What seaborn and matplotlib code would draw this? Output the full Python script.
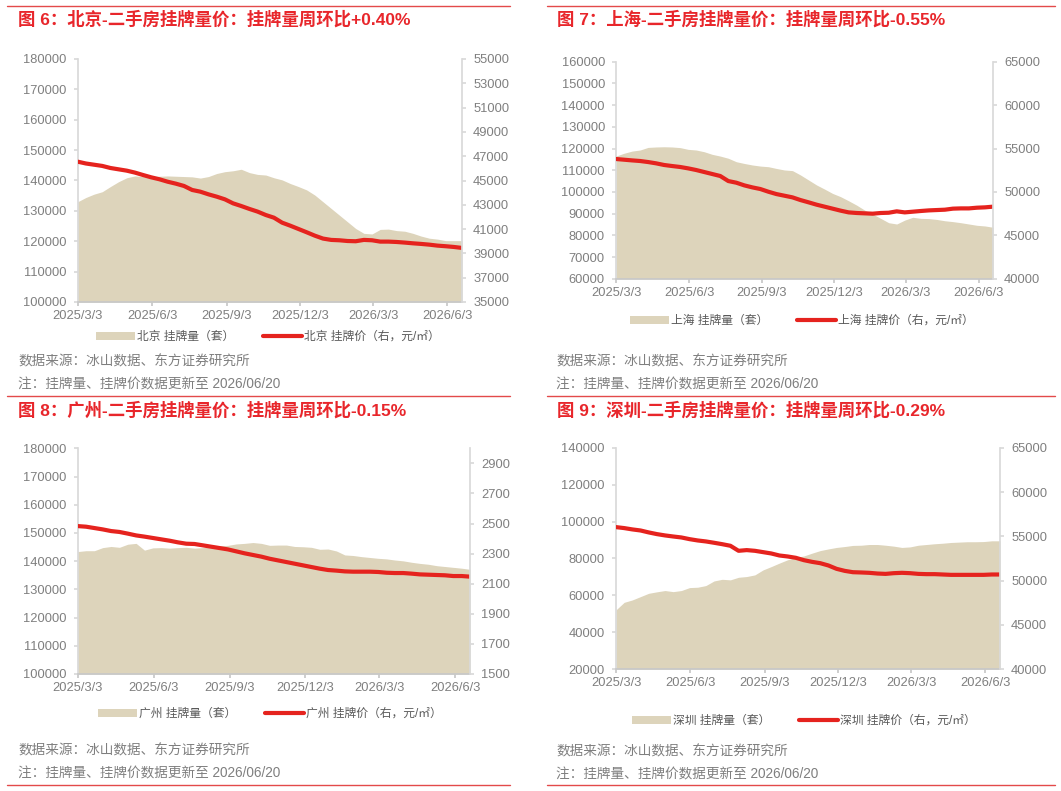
import numpy as np
import pandas as pd
import matplotlib
matplotlib.use('Agg')
import matplotlib.pyplot as plt
from matplotlib.patches import Patch
from matplotlib.lines import Line2D
import seaborn as sns

sns.set_theme(style='white')
plt.rcParams['font.family'] = ['Liberation Sans', 'Noto Sans CJK SC', 'DejaVu Sans']
plt.rcParams['axes.unicode_minus'] = False

W, H = 1061, 791
AREA = '#DDD4BB'
RED = '#E5231E'
TITLE_RED = '#E8262B'
GRAY = '#7F7F7F'
SPINE = '#D9D9D9'

# ~10-day samples from 2025/3/3 to 2026/6/21
dates = pd.date_range('2025-03-03', '2026-06-21', periods=48)
tick_dates = pd.to_datetime(['2025-03-03', '2025-06-03', '2025-09-03',
                             '2025-12-03', '2026-03-03', '2026-06-03'])
tick_labels = ['2025/3/3', '2025/6/3', '2025/9/3', '2025/12/3', '2026/3/3', '2026/6/3']

# Beijing
bj_count = [133000, 134400, 135500, 136300, 138000, 139600, 140900, 141500, 141300, 141300,
            141400, 141500, 141400, 141300, 141200, 140800, 141300, 142300, 142900, 143200,
            143700, 142600, 142000, 141800, 140900, 140200, 139000, 138000, 136900, 135200,
            133000, 130800, 128600, 126400, 124200, 122600, 122400, 123900, 124000, 123500,
            123300, 122600, 121700, 121000, 120700, 120200, 120200, 120200]
bj_price = [46550, 46400, 46300, 46200, 46030, 45920, 45810, 45650, 45450, 45260,
            45100, 44900, 44740, 44550, 44220, 44080, 43860, 43670, 43450, 43120,
            42900, 42660, 42440, 42160, 41940, 41530, 41280, 41010, 40740, 40460,
            40220, 40110, 40080, 40020, 40000, 40110, 40080, 39970, 39970, 39940,
            39890, 39830, 39780, 39720, 39640, 39590, 39530, 39450]

# Shanghai
sh_count = [116500, 117800, 118800, 119300, 120500, 120700, 120800, 120700, 120400, 119600,
            119300, 118500, 117300, 116500, 115500, 113900, 113100, 112400, 111900, 111600,
            110800, 110100, 109800, 107800, 105500, 103200, 101300, 99300, 97800, 95900,
            93900, 91600, 89800, 87800, 85800, 85200, 87000, 88300, 87800, 87700,
            87300, 86700, 86300, 85800, 85200, 84600, 84300, 83700]
sh_price = [53790, 53710, 53630, 53560, 53440, 53290, 53100, 52980, 52870, 52710,
            52520, 52290, 52060, 51830, 51250, 51060, 50750, 50520, 50330, 50020,
            49750, 49560, 49370, 49060, 48800, 48530, 48300, 48070, 47840, 47640,
            47570, 47530, 47490, 47570, 47600, 47760, 47640, 47720, 47800, 47870,
            47910, 47950, 48070, 48100, 48100, 48180, 48220, 48300]

# Guangzhou
gz_count = [143400, 143700, 143700, 144800, 145200, 144900, 146000, 146300, 143900, 144700,
            144800, 144600, 144800, 144900, 144600, 144800, 145000, 145400, 145600, 146100,
            146300, 146600, 146300, 145600, 145700, 145700, 145200, 145100, 144900, 144200,
            144300, 143600, 142200, 142000, 141600, 141300, 141000, 140800, 140400, 140100,
            139600, 139200, 138900, 138400, 138100, 137800, 137500, 137100]
gz_price = [2483, 2479, 2470, 2461, 2450, 2444, 2433, 2421, 2413, 2404,
            2395, 2386, 2375, 2366, 2364, 2355, 2346, 2337, 2328, 2315,
            2302, 2291, 2280, 2266, 2255, 2244, 2233, 2222, 2211, 2200,
            2191, 2187, 2182, 2180, 2180, 2180, 2178, 2173, 2171, 2171,
            2167, 2162, 2160, 2158, 2156, 2151, 2151, 2147]

# Shenzhen
sz_count = [52100, 56200, 57500, 59300, 61100, 61900, 62600, 62000, 62600, 64200,
            64400, 65300, 67800, 68700, 68400, 69800, 70200, 71100, 73800, 75600,
            77500, 79300, 80500, 81400, 82900, 84300, 85200, 86000, 86500, 87100,
            87200, 87600, 87600, 87200, 86700, 86000, 86300, 87200, 87600, 88000,
            88300, 88700, 88900, 89100, 89100, 89200, 89600, 89600]
sz_price = [56050, 55940, 55790, 55670, 55450, 55260, 55110, 54990, 54880, 54690,
            54540, 54430, 54280, 54120, 53940, 53370, 53450, 53370, 53220, 53070,
            52840, 52730, 52580, 52310, 52120, 51970, 51710, 51330, 51100, 50950,
            50920, 50880, 50800, 50760, 50840, 50880, 50840, 50760, 50730, 50730,
            50690, 50650, 50650, 50650, 50650, 50650, 50690, 50690]

fig = plt.figure(figsize=(W / 100, H / 100), dpi=100)


def px_rect(x0, y0, x1, y1):
    return [x0 / W, 1 - y1 / H, (x1 - x0) / W, (y1 - y0) / H]


def fig_text(x, y, s, **kw):
    fig.text(x / W, 1 - y / H, s, va='center', ha='left', **kw)


def hline(x0, x1, y):
    fig.add_artist(Line2D([x0 / W, x1 / W], [1 - y / H, 1 - y / H],
                          color='#E34A4A', lw=1.0))


def draw_panel(rect, city, count, price, left_lim, left_ticks, right_lim, right_ticks,
               title, title_xy, legend_xy, src_xy):
    ax = fig.add_axes(px_rect(*rect))
    ax.fill_between(dates, count, left_lim[0], color=AREA, linewidth=0)
    ax.set_xlim(dates[0], dates[-1])
    ax.set_ylim(*left_lim)
    ax.set_yticks(left_ticks)
    ax.set_yticklabels([f'{v:d}' for v in left_ticks])
    ax.set_xticks(tick_dates)
    ax.set_xticklabels(tick_labels)

    ax2 = ax.twinx()
    sns.lineplot(x=dates, y=price, ax=ax2, color=RED, linewidth=3)
    ax2.set_ylim(*right_lim)
    ax2.set_yticks(right_ticks)
    ax2.set_yticklabels([f'{v:d}' for v in right_ticks])
    ax2.set_xlim(dates[0], dates[-1])
    ax2.set_ylabel('')
    ax2.set_xlabel('')

    for a in (ax, ax2):
        for s in a.spines.values():
            s.set_visible(False)
    ax.spines['left'].set_visible(True)
    ax.spines['left'].set_color(SPINE)
    ax.spines['bottom'].set_visible(True)
    ax.spines['bottom'].set_color('#C8C8C8')
    ax2.spines['right'].set_visible(True)
    ax2.spines['right'].set_color(SPINE)

    ax.tick_params(axis='y', left=True, length=3, color=SPINE, labelcolor=GRAY,
                   labelsize=9.3, pad=5)
    ax.tick_params(axis='x', bottom=True, length=3, color='#C8C8C8', labelcolor=GRAY,
                   labelsize=9.3, pad=3)
    ax2.tick_params(axis='y', right=True, length=3, color=SPINE, labelcolor=GRAY,
                    labelsize=9.3, pad=5)
    ax.grid(False)
    ax2.grid(False)

    fig_text(title_xy[0], title_xy[1], title, color=TITLE_RED, fontsize=12.5,
             fontweight='bold')

    handles = [Patch(facecolor=AREA, edgecolor='none'),
               Line2D([], [], color=RED, lw=3)]
    labels = [f'{city} 挂牌量（套）', f'{city} 挂牌价（右，元/㎡）']
    fig.legend(handles, labels, loc='center',
               bbox_to_anchor=(legend_xy[0] / W, 1 - legend_xy[1] / H),
               ncol=2, frameon=False, fontsize=8.5, handlelength=3.3,
               handletextpad=0.2, columnspacing=2.4, labelcolor='#595959')

    fig_text(src_xy[0], src_xy[1], '数据来源：冰山数据、东方证券研究所',
             color=GRAY, fontsize=9.8)
    fig_text(src_xy[0], src_xy[1] + 23, '注：挂牌量、挂牌价数据更新至 2026/06/20',
             color=GRAY, fontsize=9.8)


draw_panel((77.7, 59, 462, 302), '北京', bj_count, bj_price,
           (100000, 180000), list(range(100000, 180001, 10000)),
           (35000, 55000), list(range(35000, 55001, 2000)),
           '图 6：北京-二手房挂牌量价：挂牌量周环比+0.40%', (18, 19), (268, 337), (18, 361))

draw_panel((616, 61.7, 993, 278.7), '上海', sh_count, sh_price,
           (60000, 160000), list(range(60000, 160001, 10000)),
           (40000, 65000), list(range(40000, 65001, 5000)),
           '图 7：上海-二手房挂牌量价：挂牌量周环比-0.55%', (557, 19), (802, 321), (556, 361))

draw_panel((77.7, 448.3, 470, 674), '广州', gz_count, gz_price,
           (100000, 180000), list(range(100000, 180001, 10000)),
           (1500, 3000), list(range(1500, 2901, 200)),
           '图 8：广州-二手房挂牌量价：挂牌量周环比-0.15%', (18, 410), (270, 714), (18, 750))

draw_panel((616, 448, 1000, 669), '深圳', sz_count, sz_price,
           (20000, 140000), list(range(20000, 140001, 20000)),
           (40000, 65000), list(range(40000, 65001, 5000)),
           '图 9：深圳-二手房挂牌量价：挂牌量周环比-0.29%', (557, 410), (804, 721), (556, 751))

# red separator rules
for y in (5.5, 395.5, 785):
    hline(7, 510, y)
    hline(547, 1055, y)

fig.savefig('out.png', dpi=100)
